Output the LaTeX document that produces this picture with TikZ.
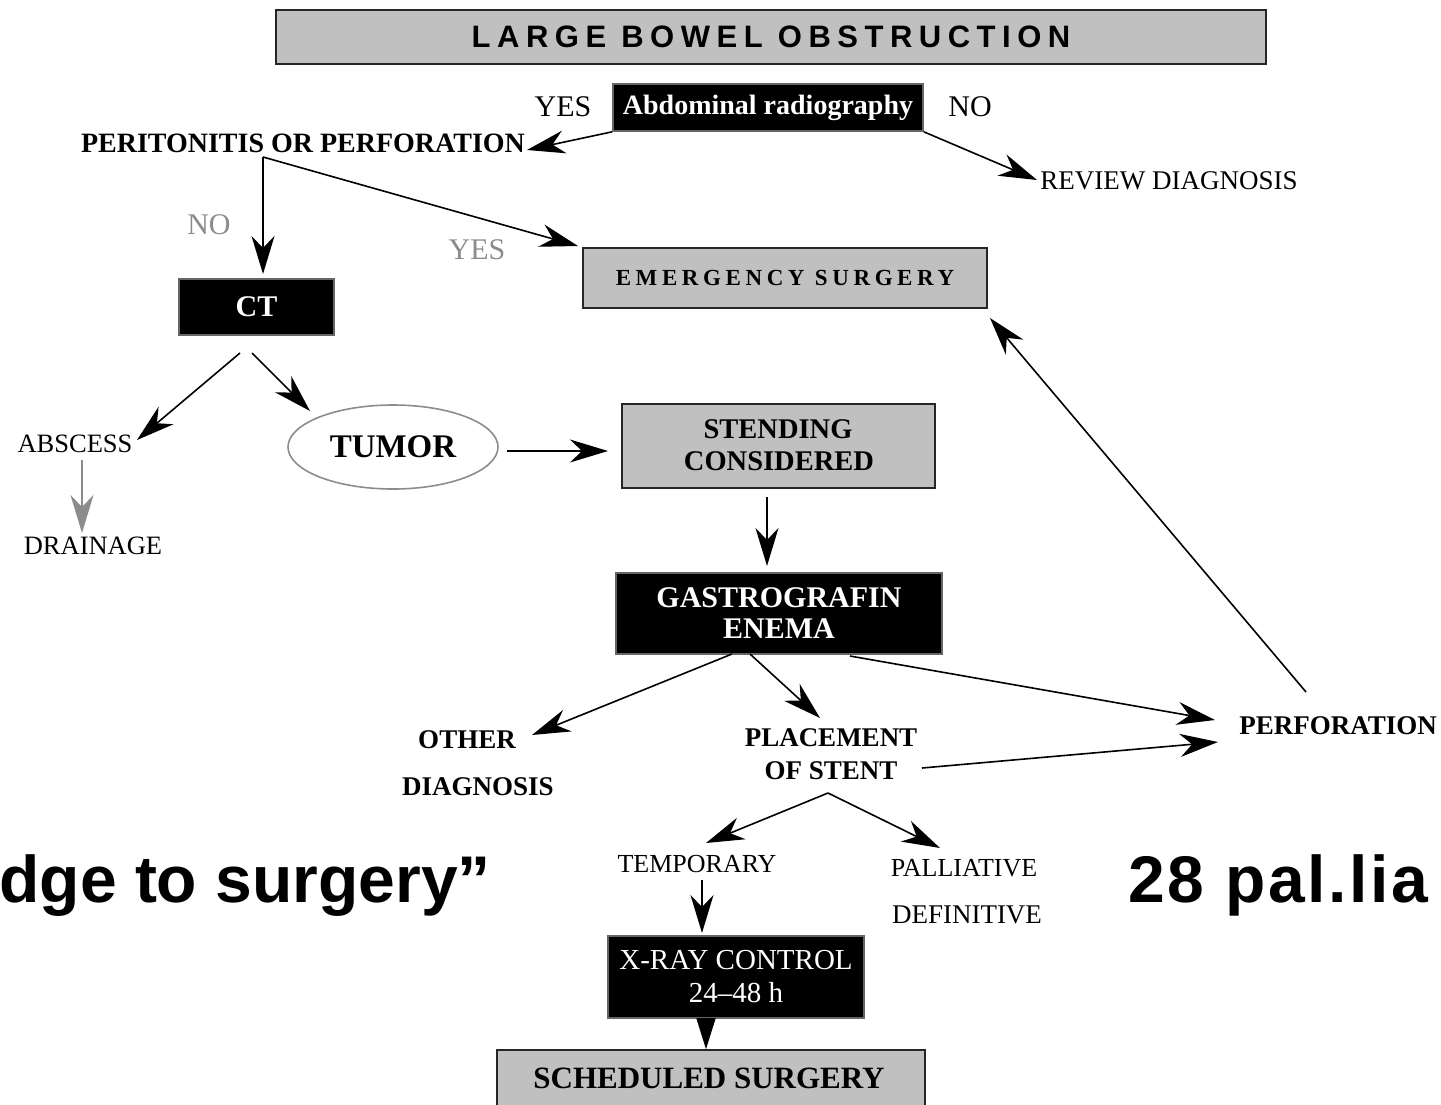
\documentclass[tikz,border=0pt]{standalone}
\usepackage{fontspec}
\setmainfont{Liberation Serif}
\newfontfamily\hsans{Liberation Sans}
\usetikzlibrary{arrows.meta,shapes.geometric}
\newcommand\fs[2]{\fontsize{#1}{#2}\selectfont}
\definecolor{boxgray}{HTML}{C0C0C0}
\definecolor{lblgray}{HTML}{8C8C8C}
\begin{document}
\begin{tikzpicture}[x=1pt,y=-1pt,
  gbox/.style={draw=black!85,line width=1.6pt,fill=boxgray,inner sep=0pt},
  bbox/.style={draw=black!60,line width=1.6pt,fill=black,text=white,inner sep=0pt},
  lbl/.style={inner sep=0pt},
  arr/.style={-{Stealth[length=38pt,width=23pt,inset=12pt]},line width=1.6pt},
  garr/.style={arr,draw=lblgray,color=lblgray},
  sarr/.style={-{Stealth[length=31pt,width=19pt,inset=0pt]},line width=1.6pt}]
\useasboundingbox (0,0) rectangle (1441,1104);
\clip (0,0) rectangle (1441,1104);
\fill[white] (0,0) rectangle (1441,1104);

% title
\node[gbox,minimum width=990pt,minimum height=54pt] (title) at (771,37)
  {\hsans\bfseries\addfontfeature{LetterSpace=21}\fs{31}{34}LARGE BOWEL OBSTRUCTION};

% top level
\node[bbox,minimum width=310pt,minimum height=47pt] (abd) at (768,107.5)
  {\bfseries\fs{28}{30}Abdominal radiography};
\node[lbl,font=\fs{30}{32}] (yes1) at (563,107) {YES};
\node[lbl,font=\fs{30}{32}] (no1) at (970,107) {NO};
\node[lbl,font=\bfseries\fs{28}{30}] (perit) at (303,143) {PERITONITIS OR PERFORATION};
\node[lbl,font=\fs{27}{30}] (review) at (1169,181) {REVIEW DIAGNOSIS};
\node[lbl,font=\fs{30}{32},text=lblgray] (no2) at (209,225) {NO};
\node[lbl,font=\fs{30}{32},text=lblgray] (yes2) at (477,250) {YES};

\node[gbox,minimum width=404pt,minimum height=60pt] (emerg) at (785,278)
  {\bfseries\addfontfeature{LetterSpace=20}\fs{23}{26}EMERGENCY SURGERY};
\node[bbox,minimum width=155pt,minimum height=56pt] (ct) at (256.5,307)
  {\bfseries\fs{30}{32}CT};

\node[lbl,font=\fs{26.5}{30}] (abscess) at (75,444) {ABSCESS};
\node[lbl,font=\fs{26.5}{30}] (drain) at (93,546) {DRAINAGE};
\node[ellipse,draw=black!45,line width=1.6pt,minimum width=210pt,minimum height=84pt,inner sep=0pt,
  font=\bfseries\fs{33}{36}] (tumor) at (393,447) {TUMOR};

\node[gbox,minimum width=313pt,minimum height=84pt] (stend) at (778.5,446) {};
\node[lbl,font=\bfseries\fs{28.5}{30}] (stend1) at (778,429) {STENDING};
\node[lbl,font=\bfseries\fs{28.5}{30}] (stend2) at (779,461) {CONSIDERED};
\node[bbox,minimum width=326pt,minimum height=81pt,align=center,font=\bfseries\fs{30}{31}] (gastro) at (779,613.5)
  {GASTROGRAFIN\\ENEMA};

\node[lbl,font=\bfseries\fs{27}{30}] (other) at (467,740) {OTHER};
\node[lbl,font=\bfseries\fs{27}{30}] (diag) at (478,787) {DIAGNOSIS};
\node[lbl,font=\bfseries\fs{27}{30}] (place) at (831,738) {PLACEMENT};
\node[lbl,font=\bfseries\fs{27}{30}] (ofstent) at (831,771) {OF STENT};
\node[lbl,font=\bfseries\fs{27}{30}] (perf) at (1338,726) {PERFORATION};

\node[lbl,font=\fs{26}{30}] (temp) at (697,864) {TEMPORARY};
\node[lbl,font=\fs{26}{30}] (pall) at (964,868) {PALLIATIVE};
\node[lbl,font=\fs{27}{30}] (defin) at (967,915) {DEFINITIVE};

\node[bbox,minimum width=256pt,minimum height=82pt,align=center,font=\fs{29}{33}] (xray) at (736,977)
  {X-RAY CONTROL\\24--48 h};
\node[gbox,minimum width=428pt,minimum height=70pt] (sched) at (711,1085) {};
\node[lbl,font=\bfseries\fs{31}{34}] (schedt) at (709,1078) {SCHEDULED SURGERY};

\node[lbl,anchor=base east,font=\hsans\bfseries\fs{66}{70}] (bridge) at (491,902) {dge to surgery”};
\node[lbl,anchor=base west,font=\hsans\bfseries\fs{66}{70}] (pal) at (1128,902)
  {\addfontfeature{LetterSpace=4}28 pal.lia};

% connector end points
\coordinate (pertip) at (527,150);
\coordinate (revtip) at (1037,180);
\coordinate (br) at (263,157);
\coordinate (cttip) at (263,274);
\coordinate (emtip) at (578,246);
\coordinate (ctl) at (240,353);
\coordinate (ctr) at (252,353);
\coordinate (abtip) at (137,440);
\coordinate (tutip) at (310,411);
\coordinate (abs0) at (82,460);
\coordinate (drtip) at (82,533);
\coordinate (tu0) at (507,451);
\coordinate (sttip) at (608,451);
\coordinate (st0) at (767,497);
\coordinate (gatip) at (767,566);
\coordinate (ga1) at (732,654);
\coordinate (ga2) at (750,654);
\coordinate (ga3) at (850,656);
\coordinate (ottip) at (532,735);
\coordinate (pltip) at (820,718);
\coordinate (pftip1) at (1215,720);
\coordinate (os0) at (922,768);
\coordinate (pftip2) at (1218,742);
\coordinate (pf0) at (1306,692);
\coordinate (emtip2) at (990,318);
\coordinate (sb) at (828,793);
\coordinate (tetip) at (706,843);
\coordinate (patip) at (940,848);
\coordinate (te0) at (702,880);
\coordinate (xrtip) at (702,933);

% connectors
\draw[arr] (abd.south west) -- (pertip);
\draw[arr] (abd.south east) -- (revtip);
\draw[arr] (br) -- (cttip);
\draw[arr] (br) -- (emtip);
\draw[arr] (ctl) -- (abtip);
\draw[arr] (ctr) -- (tutip);
\draw[garr] (abs0) -- (drtip);
\draw[arr] (tu0) -- (sttip);
\draw[arr] (st0) -- (gatip);
\draw[arr] (ga1) -- (ottip);
\draw[arr] (ga2) -- (pltip);
\draw[arr] (ga3) -- (pftip1);
\draw[arr] (os0) -- (pftip2);
\draw[arr] (pf0) -- (emtip2);
\draw[arr] (sb) -- (tetip);
\draw[arr] (sb) -- (patip);
\draw[arr] (te0) -- (xrtip);
\draw[sarr] ([xshift=-30pt]xray.south) -- ([xshift=-30pt]xray.south |- sched.north);
\end{tikzpicture}
\end{document}
